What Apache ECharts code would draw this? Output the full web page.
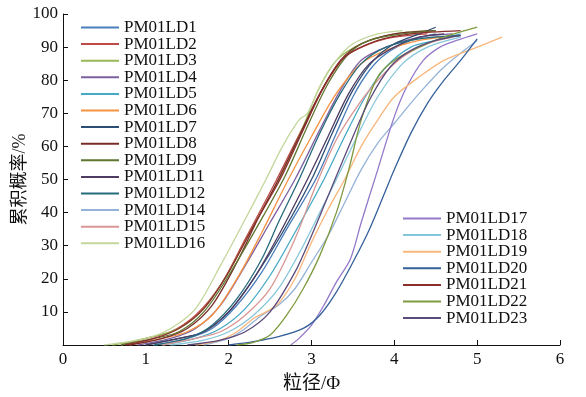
<!DOCTYPE html>
<html>
<head>
<meta charset="utf-8">
<script src="https://cdn.jsdelivr.net/npm/echarts@6/dist/echarts.min.js"></script>
<style>
  html, body { margin: 0; padding: 0; background: #fff; }
  #chart { width: 586px; height: 397px; }
</style>
</head>
<body>
<div id="chart"></div>
<script>
// 每条曲线: [粒径Φ, 累积概率%]
const ld1 = [[1.1,0],[1.5,2],[1.8,5],[2.1,12],[2.4,22],[2.7,35],[3.05,50],[3.3,64],[3.5,75],[3.7,83],[3.9,88],[4.2,92],[4.5,94]];
const ld2 = [[0.7,0],[1.0,2],[1.3,4],[1.6,9],[1.9,18],[2.2,32],[2.58,50],[2.9,66],[3.15,78],[3.4,87],[3.7,91],[4.0,93],[4.4,94]];
const ld3 = [[0.6,0],[1.0,2],[1.4,5],[1.7,11],[2.0,22],[2.3,36],[2.65,52],[2.9,66],[3.1,78],[3.3,86],[3.6,91],[4.0,94],[4.4,95]];
const ld4 = [[0.9,0],[1.3,2],[1.6,5],[1.9,12],[2.2,24],[2.5,37],[2.8,50],[3.1,65],[3.35,77],[3.6,86],[3.9,90],[4.3,93],[4.7,94]];
const ld5 = [[1.2,0],[1.6,2],[1.9,5],[2.2,11],[2.5,21],[2.8,34],[3.15,50],[3.4,63],[3.65,75],[3.9,84],[4.2,90],[4.5,92],[4.8,94]];
const ld6 = [[0.8,0],[1.2,2],[1.5,4],[1.8,9],[2.1,20],[2.4,34],[2.72,50],[3.0,63],[3.3,76],[3.6,85],[3.9,89],[4.3,92],[4.6,93]];
const ld7 = [[1.0,0],[1.4,2],[1.7,4],[2.0,10],[2.3,20],[2.65,34],[3.0,50],[3.25,64],[3.5,77],[3.75,86],[4.0,91],[4.3,94],[4.5,96]];
const ld8 = [[0.8,0],[1.2,2],[1.5,5],[1.8,12],[2.1,25],[2.35,38],[2.6,50],[2.85,63],[3.1,76],[3.35,86],[3.6,91],[4.0,94],[4.5,95]];
const ld9 = [[0.7,0],[1.1,2],[1.4,4],[1.7,10],[2.0,21],[2.35,36],[2.68,51],[2.95,66],[3.2,79],[3.45,88],[3.7,92],[4.1,94],[4.5,95]];
const ld11 = [[1.0,0],[1.4,2],[1.7,4],[2.0,10],[2.3,20],[2.6,33],[2.95,50],[3.2,63],[3.45,76],[3.7,85],[4.0,90],[4.3,93],[4.6,94]];
const ld12 = [[1.1,0],[1.5,2],[1.8,6],[2.1,14],[2.4,26],[2.6,37],[2.85,50],[3.1,64],[3.35,76],[3.6,85],[3.9,90],[4.3,92.5],[4.8,93.5]];
const ld14 = [[1.7,0],[2.0,2],[2.2,5],[2.4,9],[2.6,12],[2.8,17],[3.0,25],[3.2,33],[3.4,43],[3.6,53],[3.8,61],[4.0,67],[4.3,76],[4.6,84],[5.0,92]];
const ld15 = [[1.2,0],[1.6,2],[1.9,4],[2.2,9],[2.5,17],[2.8,32],[3.05,48],[3.3,62],[3.55,72],[3.8,80],[4.1,87],[4.4,91],[4.7,93]];
const ld16 = [[0.5,0],[1.0,2],[1.3,5],[1.6,11],[1.9,24],[2.2,38],[2.45,50],[2.65,60],[2.85,68],[2.95,70],[3.1,78],[3.3,86],[3.5,91],[3.8,94],[4.1,95]];
const ld17 = [[2.75,0],[2.85,2],[3.0,6],[3.15,12],[3.3,19],[3.47,26],[3.6,37],[3.8,53],[4.0,69],[4.15,78],[4.35,86],[4.55,90],[4.75,92],[5.0,94]];
const ld18 = [[1.3,0],[1.7,1.5],[2.0,4],[2.3,9],[2.6,17],[2.9,30],[3.1,40],[3.3,50],[3.55,63],[3.8,75],[4.1,85],[4.4,90],[4.8,93]];
const ld19 = [[1.6,0],[1.9,1.5],[2.1,4],[2.3,8],[2.45,10],[2.6,12.5],[2.8,20],[3.0,31],[3.2,41],[3.4,50],[3.6,60],[3.8,68],[4.0,75],[4.3,81],[4.6,86],[5.0,90],[5.3,93]];
const ld20 = [[2.0,0],[2.3,1],[2.6,2.5],[2.9,5],[3.1,9],[3.3,16],[3.5,25],[3.7,35],[3.9,47],[4.0,53],[4.2,64],[4.4,73],[4.6,80],[4.8,86],[5.0,92.5]];
const ld21 = [[0.75,0],[1.1,2],[1.4,5],[1.7,11],[2.0,22],[2.3,36],[2.62,50],[2.9,65],[3.15,78],[3.4,87],[3.8,92],[4.2,94],[4.8,95]];
const ld22 = [[2.1,0],[2.3,0.8],[2.5,3],[2.7,9],[2.9,17],[3.1,27],[3.3,40],[3.45,53],[3.6,68],[3.8,81],[4.0,86],[4.3,90],[4.6,93],[5.0,96]];
const ld23 = [[1.5,0],[1.9,1.5],[2.2,4],[2.5,10],[2.8,22],[3.0,33],[3.2,45],[3.45,60],[3.7,74],[3.95,84],[4.2,89],[4.5,92],[4.8,93.5]];

const names1 = ['PM01LD1','PM01LD2','PM01LD3','PM01LD4','PM01LD5','PM01LD6','PM01LD7','PM01LD8','PM01LD9','PM01LD11','PM01LD12','PM01LD14','PM01LD15','PM01LD16'];
const names2 = ['PM01LD17','PM01LD18','PM01LD19','PM01LD20','PM01LD21','PM01LD22','PM01LD23'];
const curves = [ld1, ld2, ld3, ld4, ld5, ld6, ld7, ld8, ld9, ld11, ld12, ld14, ld15, ld16,
                ld17, ld18, ld19, ld20, ld21, ld22, ld23];
const colors = ['#4a7ebb','#be4b48','#98b954','#7d60a0','#46aac5','#f69240','#2c4d75','#772c2a','#5f7530','#4d3b62','#276a7c','#95b3d7','#d99694','#c3d69b',
                '#9478c9','#86c6da','#f9b77c','#35609a','#8b2f2c','#7f9a3f','#5b4a7a'];
const xTicks = [0, 1, 2, 3, 4, 5, 6];

const font = '"Liberation Serif", "Noto Sans CJK SC", serif';
const names = names1.concat(names2);

const chart = echarts.init(document.getElementById('chart'));
const legendBase = {
  orient: 'vertical',
  icon: 'rect',
  itemWidth: 38,
  itemHeight: 2,
  itemGap: -0.4,
  textStyle: { fontFamily: font, fontSize: 17, color: '#111', lineHeight: 15 },
};
chart.setOption({
  animation: false,
  backgroundColor: '#fff',
  color: colors,
  grid: { left: 63, right: 26, top: 14, bottom: 52, containLabel: false, outerBoundsMode: 'none' },
  legend: [
    Object.assign({ data: names1, left: 76, top: 14 }, legendBase),
    Object.assign({ data: names2, left: 398, top: 205 }, legendBase),
  ],
  xAxis: {
    type: 'value',
    min: xTicks[0],
    max: xTicks[xTicks.length - 1],
    interval: 1,
    name: '粒径/Φ',
    nameLocation: 'middle',
    nameGap: 30,
    nameMoveOverlap: false,
    nameTextStyle: { fontFamily: font, fontSize: 19, color: '#111' },
    axisLine: { lineStyle: { color: '#111', width: 1 } },
    axisTick: { inside: true, length: 5, lineStyle: { color: '#111' } },
    axisLabel: { fontFamily: font, fontSize: 17, color: '#111', margin: 6 },
    splitLine: { show: false },
  },
  yAxis: {
    type: 'value',
    min: 0,
    max: 100,
    interval: 10,
    name: '累积概率/%',
    nameLocation: 'middle',
    nameGap: 34,
    nameMoveOverlap: false,
    nameTextStyle: { fontFamily: font, fontSize: 18, color: '#111' },
    axisLine: { show: true, lineStyle: { color: '#111', width: 1 } },
    axisTick: { show: true, inside: true, length: 5, lineStyle: { color: '#111' } },
    axisLabel: { fontFamily: font, fontSize: 17, color: '#111', margin: 5, showMinLabel: false },
    splitLine: { show: false },
  },
  series: curves.map((d, i) => ({
    name: names[i],
    type: 'line',
    data: d,
    smooth: 0.3,
    symbol: 'none',
    lineStyle: { width: 1.3 },
  })),
});
</script>
</body>
</html>
